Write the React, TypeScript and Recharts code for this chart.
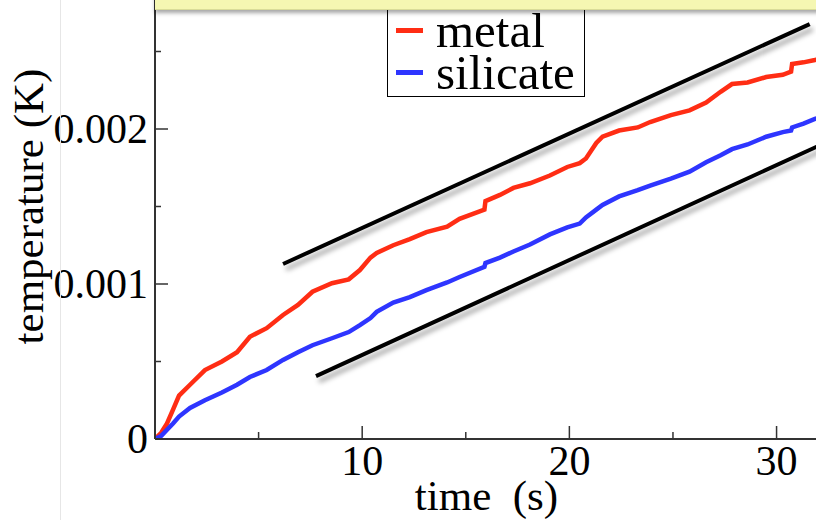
import { LineChart, Line, XAxis, YAxis, Legend, Label } from "recharts";

// time in s, temperatures in units of 1e-3 K
const time = [
  0, 0.3, 0.58, 0.87, 1.16, 1.69, 2.41, 3.23, 3.96, 4.58, 5.39, 6.18, 6.9, 7.6, 8.54, 9.35, 9.89,
  10.4, 10.7, 11.5, 12.3, 13.1, 14.1, 14.7, 15.9, 15.95, 16.65, 17.3, 18.1, 19.06, 19.9, 20.5,
  20.8, 21.3, 21.6, 22.4, 23.3, 23.9, 24.9, 25.8, 26.6, 27.3, 27.85, 28.6, 29.5, 30.3, 30.7,
  30.75, 31.3, 31.85, 32,
];
const metal = [
  0, 0.04, 0.1, 0.19, 0.28, 0.35, 0.445, 0.5, 0.56, 0.66, 0.715, 0.8, 0.865, 0.95, 1.005, 1.03,
  1.09, 1.17, 1.2, 1.25, 1.29, 1.335, 1.37, 1.42, 1.48, 1.535, 1.575, 1.62, 1.65, 1.7, 1.755,
  1.78, 1.81, 1.91, 1.95, 1.99, 2.01, 2.045, 2.09, 2.12, 2.17, 2.24, 2.29, 2.3, 2.335, 2.35,
  2.37, 2.42, 2.43, 2.445, 2.45,
];
const silicate = [
  0, 0.02, 0.06, 0.1, 0.145, 0.2, 0.25, 0.3, 0.35, 0.4, 0.445, 0.51, 0.56, 0.605, 0.65, 0.69,
  0.735, 0.78, 0.82, 0.88, 0.915, 0.96, 1.01, 1.045, 1.11, 1.135, 1.17, 1.21, 1.255, 1.32, 1.365,
  1.39, 1.43, 1.48, 1.51, 1.565, 1.605, 1.635, 1.68, 1.725, 1.785, 1.83, 1.87, 1.9, 1.95, 1.98,
  1.99, 2.01, 2.035, 2.065, 2.07,
];

// straight guide lines (start / end)
const upperGuideT = [6.18, 31.6];
const upperGuideV = [1.129, 2.677];
const lowerGuideT = [7.77, 32.5];
const lowerGuideV = [0.406, 1.92];

const xTicks = [5, 10, 15, 20, 25, 30];
const xLabelled = [10, 20, 30];
const yTicks = [0, 0.5, 1, 1.5, 2, 2.5, 3];
const yLabelled = [0, 1, 2];
const yMajor = [0, 1, 2, 3];

const SERIF = '"Liberation Serif", "Times New Roman", "DejaVu Serif", serif';
const AXIS = "#333";
const RED = "#ff2d14";
const BLUE = "#2e35ff";

const data = time.map((t, i) => ({ t, metal: metal[i], silicate: silicate[i] }));
const upperGuide = upperGuideT.map((t, i) => ({ t, v: upperGuideV[i] }));
const lowerGuide = lowerGuideT.map((t, i) => ({ t, v: lowerGuideV[i] }));

const fmtY = (v: number) => String(+(v / 1000).toFixed(4));

function LeftTick({ x, y, payload }: any) {
  const v = payload.value;
  const major = yMajor.includes(v);
  const ax = x + 7;
  return (
    <g>
      <line x1={ax} x2={ax + (major ? 13 : 6)} y1={y} y2={y} stroke={AXIS} strokeWidth={1.5} />
      {yLabelled.includes(v) && (
        <text x={x} y={y + 14} textAnchor="end" fontFamily={SERIF} fontSize={42} fill="#000">
          {fmtY(v)}
        </text>
      )}
    </g>
  );
}

function RightTick({ x, y, payload }: any) {
  const major = yMajor.includes(payload.value);
  return <line x1={x} x2={x - (major ? 13 : 7)} y1={y} y2={y} stroke={AXIS} strokeWidth={1.5} />;
}

function BottomTick({ x, y, payload }: any) {
  const v = payload.value;
  const major = xLabelled.includes(v);
  return (
    <g>
      <line x1={x} x2={x} y1={y} y2={y - (major ? 13 : 7)} stroke={AXIS} strokeWidth={1.5} />
      {major && (
        <text x={x} y={y + 36} textAnchor="middle" fontFamily={SERIF} fontSize={42} fill="#000">
          {v}
        </text>
      )}
    </g>
  );
}

function XTitle({ viewBox }: any) {
  return (
    <text x={viewBox.x + viewBox.width / 2} y={viewBox.y + 71} textAnchor="middle" fontFamily={SERIF} fontSize={43} fill="#000">
      {"time\u00A0\u00A0(s)"}
    </text>
  );
}

function YTitle({ viewBox }: any) {
  const cx = 43;
  const cy = viewBox.y + viewBox.height / 2;
  return (
    <text x={cx} y={cy} transform={`rotate(-90 ${cx} ${cy})`} textAnchor="middle" fontFamily={SERIF} fontSize={43} fill="#000">
      temperature (K)
    </text>
  );
}

function LegendBox({ payload }: any) {
  const items = (payload || []).filter((p: any) => p.type !== "none");
  return (
    <div
      style={{
        border: "1.5px solid #000",
        background: "#fff",
        width: 198,
        boxSizing: "border-box",
        padding: "11px 0 2px 0",
        fontFamily: SERIF,
        fontSize: 49,
        lineHeight: "42px",
        color: "#000",
      }}
    >
      {items.map((p: any) => (
        <div key={p.value} style={{ position: "relative", height: 42, paddingLeft: 48, whiteSpace: "nowrap" }}>
          <span style={{ position: "absolute", left: 8, top: 18, width: 27, height: 5, background: p.color }} />
          {p.value}
        </div>
      ))}
    </div>
  );
}

export default function App() {
  return (
    <div style={{ position: "fixed", left: 0, top: 0, width: 816, height: 520, overflow: "hidden", background: "#fff" }}>
      <style>{`.guide { filter: drop-shadow(3px 5px 2.5px rgba(0,0,0,0.35)); }`}</style>
      <div style={{ position: "absolute", left: 0, top: -40 }}>
        <LineChart width={838} height={569} data={data} margin={{ top: 14, right: 0, bottom: 0, left: 0 }}>
          <XAxis
            dataKey="t"
            type="number"
            domain={[0, 32]}
            ticks={xTicks}
            interval={0}
            allowDataOverflow
            height={90}
            tickSize={0}
            tickMargin={0}
            tickLine={false}
            tick={<BottomTick />}
            axisLine={{ stroke: AXIS, strokeWidth: 2 }}
          >
            <Label content={<XTitle />} />
          </XAxis>
          <YAxis
            yAxisId="left"
            type="number"
            domain={[0, 3]}
            ticks={yTicks}
            interval={0}
            allowDataOverflow
            width={155}
            tickSize={0}
            tickMargin={7}
            tickLine={false}
            tick={<LeftTick />}
            axisLine={{ stroke: AXIS, strokeWidth: 2 }}
          >
            <Label content={<YTitle />} />
          </YAxis>
          <YAxis
            yAxisId="right"
            orientation="right"
            type="number"
            domain={[0, 3]}
            ticks={yTicks}
            interval={0}
            width={20}
            tickSize={0}
            tickMargin={0}
            tickLine={false}
            tick={<RightTick />}
            axisLine={{ stroke: AXIS, strokeWidth: 2 }}
          />
          <Legend
            layout="horizontal"
            verticalAlign="middle"
            align="center"
            content={<LegendBox />}
            wrapperStyle={{ left: 387, top: 38, width: 198 }}
          />
          <Line
            yAxisId="left"
            data={upperGuide}
            dataKey="v"
            className="guide"
            stroke="#000"
            strokeWidth={4}
            dot={false}
            activeDot={false}
            legendType="none"
            isAnimationActive={false}
          />
          <Line
            yAxisId="left"
            data={lowerGuide}
            dataKey="v"
            className="guide"
            stroke="#000"
            strokeWidth={4}
            dot={false}
            activeDot={false}
            legendType="none"
            isAnimationActive={false}
          />
          <Line
            yAxisId="left"
            dataKey="metal"
            name="metal"
            stroke={RED}
            strokeWidth={4.5}
            dot={false}
            activeDot={false}
            isAnimationActive={false}
          />
          <Line
            yAxisId="left"
            dataKey="silicate"
            name="silicate"
            stroke={BLUE}
            strokeWidth={4.5}
            dot={false}
            activeDot={false}
            isAnimationActive={false}
          />
        </LineChart>
      </div>
      <div style={{ position: "absolute", left: 60, top: 0, width: 1, height: 520, background: "#e6e6e6" }} />
      <div
        style={{
          position: "absolute",
          left: 155,
          top: -10,
          width: 700,
          height: 19,
          background: "#f5f7b2",
          borderBottom: "1px solid #d9dc98",
          boxShadow: "0 3px 4px rgba(0,0,0,0.35)",
        }}
      />
    </div>
  );
}
